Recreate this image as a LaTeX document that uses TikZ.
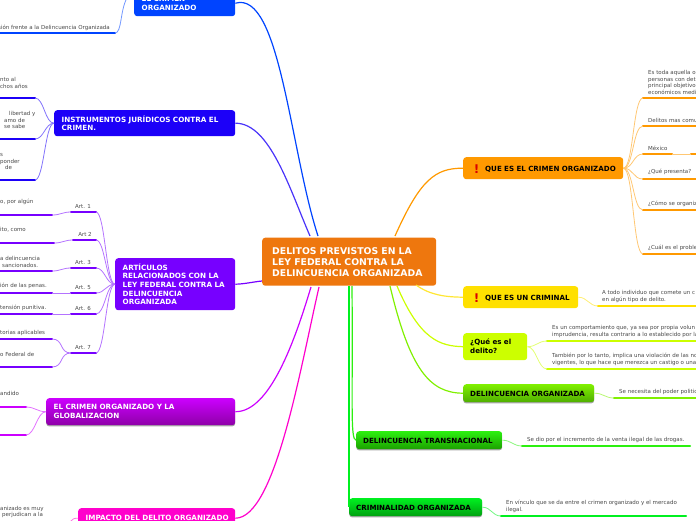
\documentclass[tikz,border=0pt]{standalone}
\usepackage{fontspec}
\setmainfont{DejaVu Sans}
\usetikzlibrary{shadows}
\definecolor{cCtr}{HTML}{EE770E}
\definecolor{cBlueA}{HTML}{0044FF}
\definecolor{cBlueB}{HTML}{1C00F8}
\definecolor{cPur}{HTML}{7700FF}
\definecolor{cMag}{HTML}{CC00FF}
\definecolor{cMagD}{HTML}{8E00A8}
\definecolor{cPink}{HTML}{FF00CC}
\definecolor{cOrg}{HTML}{FF9900}
\definecolor{cYel}{HTML}{FFE000}
\definecolor{cLim}{HTML}{CCFF00}
\definecolor{cLgr}{HTML}{80F000}
\definecolor{cLgrD}{HTML}{4FAE00}
\definecolor{cGrn}{HTML}{2CF010}
\definecolor{cGrnD}{HTML}{1CA000}
\definecolor{cEme}{HTML}{00F020}
\definecolor{cEmeD}{HTML}{00A010}
\definecolor{cTxt}{HTML}{484848}
\tikzset{
  x=1pt,y=-1pt,
  hub/.style={rounded corners=3pt,inner ysep=0pt,inner xsep=7.5pt,anchor=north west,align=left,font=\bfseries},
  whub/.style={hub,text=white},
  khub/.style={hub,text=black},
  softshadow/.style={drop shadow={shadow xshift=0pt,shadow yshift=-1.2pt,opacity=.35,fill=black}},
  leaftext/.style={anchor=south west,inner sep=0pt,align=left,text=cTxt,font=\fontsize{5.5}{6.5}\selectfont},
  under/.style={line width=2.3pt,line cap=round,draw=#1},
  main/.style={line width=1.2pt,draw=#1},
  conn/.style={line width=.8pt,draw=#1!55!white},
}
\newcommand{\uline}[5]{% name, x1, x2, y, colour
  \coordinate (#1a) at (#2,#4);
  \coordinate (#1b) at (#3,#4);
  \draw[under=#5] (#1a) -- (#1b);}
\newcommand{\lcurve}[4][9]{% bend, from, to (going left), colour
  \draw[conn=#4] (#2) .. controls +(-#1,0) and +(#1,0) .. (#3);}
\newcommand{\rcurve}[4][9]{% bend, from, to (going right), colour
  \draw[conn=#4] (#2) .. controls +(#1,0) and +(-#1,0) .. (#3);}
\newcommand{\dropt}[1]{\raisebox{-1.2pt}[\height][\depth]{#1}}
\begin{document}
\begin{tikzpicture}
\useasboundingbox (0,0) rectangle (696,520);
\clip (0,0) rectangle (696,520);

% hubs
\node[whub,inner xsep=10pt,fill=cCtr,minimum width=174,minimum height=48,text width=154,font=\bfseries\fontsize{9.3}{11}\selectfont] (ctr) at (262,237.5) {DELITOS PREVISTOS EN LA\\LEY FEDERAL CONTRA LA\\DELINCUENCIA ORGANIZADA};
\node[whub,fill=cBlueA,minimum width=101,minimum height=26,text width=86,font=\bfseries\fontsize{7.2}{8.4}\selectfont] (hA) at (134,-10) {EL CRIMEN\\ORGANIZADO};
\node[whub,fill=cBlueB,minimum width=181,minimum height=26,text width=166,font=\bfseries\fontsize{7.2}{8.4}\selectfont] (hB) at (54,110) {INSTRUMENTOS JURÍDICOS CONTRA EL\\CRIMEN.};
\node[whub,fill=cPur,minimum width=120,minimum height=52,text width=105,font=\bfseries\fontsize{7.2}{8.6}\selectfont] (hC) at (115,258) {ARTÍCULOS\\RELACIONADOS CON LA\\LEY FEDERAL CONTRA LA\\DELINCUENCIA\\ORGANIZADA};
\node[whub,top color=cMag,bottom color=cMagD,softshadow,minimum width=189,minimum height=27,text width=174,font=\bfseries\fontsize{7.2}{8.8}\selectfont] (hD) at (46,398) {EL CRIMEN ORGANIZADO Y LA\\GLOBALIZACION};
\node[whub,fill=cPink,minimum width=157,minimum height=20,text width=142,font=\bfseries\fontsize{7.2}{8.6}\selectfont] (hE) at (78,508) {\makebox[142pt][l]{IMPACTO DEL DELITO ORGANIZADO}};

\node[khub,fill=cOrg,minimum width=160,minimum height=22,inner xsep=0pt,font=\bfseries\fontsize{7.1}{8}\selectfont,text width=160] (hF) at (463,157) {\hspace{22pt}\dropt{QUE ES EL CRIMEN ORGANIZADO}};
\node[inner sep=0pt,text=red!85!black,font=\bfseries\fontsize{12}{12}\selectfont] (iF) at (476.5,169) {!};
\node[khub,fill=cYel,minimum width=115,minimum height=22,inner xsep=0pt,text width=115,font=\bfseries\fontsize{7.1}{8}\selectfont] (hG) at (463,286) {\hspace{22pt}\dropt{QUE ES UN CRIMINAL}};
\node[inner sep=0pt,text=red!85!black,font=\bfseries\fontsize{12}{12}\selectfont] (iG) at (476.5,298) {!};
\node[khub,fill=cLim,minimum width=64,minimum height=27,inner xsep=7pt,text width=50,font=\bfseries\fontsize{7.1}{9}\selectfont] (hH) at (463,333) {¿Qué es el\\delito?};
\node[khub,top color=cLgr,bottom color=cLgrD,softshadow,minimum width=131,minimum height=18,inner xsep=7pt,text width=117,font=\bfseries\fontsize{7.1}{8}\selectfont] (hI) at (463,384) {\dropt{DELINCUENCIA ORGANIZADA}};
\node[khub,top color=cGrn,bottom color=cGrnD,softshadow,minimum width=146,minimum height=18,inner xsep=7pt,text width=132,font=\bfseries\fontsize{7.1}{8}\selectfont] (hJ) at (356,431) {\dropt{DELINCUENCIA TRANSNACIONAL}};
\node[khub,top color=cEme,bottom color=cEmeD,softshadow,minimum width=133,minimum height=18,inner xsep=7pt,text width=119,font=\bfseries\fontsize{7.1}{8}\selectfont] (hK) at (349,498) {\dropt{CRIMINALIDAD ORGANIZADA}};

% junction points on the central node
\coordinate (jA) at (318,236);
\coordinate (jB) at (310,236);
\coordinate (jC) at (262,281);
\coordinate (jD) at (311,287);
\coordinate (jE) at (319,287);
\coordinate (jF) at (395,236);
\coordinate (jG) at (416,285);
\coordinate (jH) at (397,286);
\coordinate (jI) at (390,286);
\coordinate (jJ) at (352,286);
\coordinate (jK) at (349,286);

% main connectors
\draw[main=cBlueA] (jA) .. controls (290,150) and (280,-10) .. (hA.east);
\draw[main=cBlueB!80!white] (jB) .. controls (290,190) and (270,123) .. (hB.east);
\draw[main=cPur] (jC) .. controls (252,282) and (245,284) .. (hC.east);
\draw[main=cMag] (jD) .. controls (295,340) and (270,412) .. (hD.east);
\draw[main=cPink] (jE) .. controls (300,370) and (275,518) .. (hE.east);
\draw[main=cOrg] (jF) .. controls (420,180) and (435,168) .. (hF.west);
\draw[main=cYel!80!white] (jG) .. controls (430,295) and (445,297) .. (hG.west);
\draw[main=cLim] (jH) .. controls (420,340) and (440,346) .. (hH.west);
\draw[main=cLgr] (jI) .. controls (410,370) and (430,393) .. (hI.west);
\draw[main=cGrn] (jJ) .. controls (353,400) and (350,440) .. (hJ.west);
\draw[main=cEme] (jK) -- (349,400) -- (hK.west);

% EL CRIMEN ORGANIZADO leaf
\uline{a}{-5}{115}{33}{cBlueA}
\coordinate (hAl) at (127,-2);
\draw[conn=cBlueA] (hAl) .. controls (120,10) and (122,33) .. (ab);
\node[leaftext,anchor=south east] (ta) at (110,30.5) {sión frente a la Delincuencia Organizada};

% INSTRUMENTOS leaves
\uline{b}{-5}{35}{98}{cBlueB}
\uline{c}{-5}{35}{139}{cBlueB}
\uline{d}{-5}{35}{180}{cBlueB}
\lcurve{hB.west}{bb}{cBlueB}
\lcurve{hB.west}{cb}{cBlueB}
\lcurve{hB.west}{db}{cBlueB}
\node[leaftext] (tb) at (0,88.5) {nto al\\chos años};
\node[leaftext] (tc) at (4,129) {\hspace{5pt}libertad y\\amo de\\se sabe};
\node[leaftext] (td) at (0,170) {s\\ponder\\\hspace{5pt}de};

% ARTICLES
\uline{e}{71}{96}{212}{cPur}
\uline{f}{73}{96}{240}{cPur}
\uline{g}{71}{96}{268}{cPur}
\uline{h}{71}{96}{293}{cPur}
\uline{i}{71}{96}{314}{cPur}
\uline{j}{71}{96}{353}{cPur}
\foreach \n in {e,f,g,h,i,j} \lcurve{hC.west}{\n b}{cPur};
\node[leaftext,anchor=south] (te) at (83,209) {Art. 1};
\node[leaftext,anchor=south] (tf) at (85,237) {Art 2};
\node[leaftext,anchor=south] (tg) at (83,265) {Art. 3};
\node[leaftext,anchor=south] (th) at (83,289.5) {Art. 5};
\node[leaftext,anchor=south] (ti) at (83,311) {Art. 6};
\node[leaftext,anchor=south] (tj) at (83,350) {Art. 7};
\uline{k}{-5}{52}{215}{cPur}
\uline{l}{-5}{54}{243}{cPur}
\uline{m}{-5}{52}{271}{cPur}
\uline{n}{-5}{52}{293}{cPur}
\uline{o}{-5}{52}{314}{cPur}
\uline{p}{-5}{52}{339}{cPur}
\uline{q}{-5}{52}{367}{cPur}
\lcurve{ea}{kb}{cPur}
\lcurve{fa}{lb}{cPur}
\lcurve{ga}{mb}{cPur}
\draw[conn=cPur] (ha) -- (nb);
\draw[conn=cPur] (ia) -- (ob);
\lcurve[12]{ja}{pb}{cPur}
\lcurve[12]{ja}{qb}{cPur}
\node[leaftext] (tk) at (0,204.5) {o, por algún};
\node[leaftext] (tl) at (0,232.5) {ito, como};
\node[leaftext] (tm) at (0,267.5) {a delincuencia\\\hspace{2pt}sancionados.};
\node[leaftext] (tn) at (0,288.5) {ión de las penas.};
\node[leaftext] (to) at (0,310.5) {tensión punitiva.};
\node[leaftext] (tp) at (0,335.5) {torias aplicables};
\node[leaftext] (tq) at (0,356.5) {o Federal de};

% GLOBALIZACION leaves
\uline{r}{-5}{26}{407}{cMag}
\uline{s}{-5}{26}{435}{cMag}
\lcurve{hD.west}{rb}{cMag}
\lcurve{hD.west}{sb}{cMag}
\node[leaftext] (tr) at (0,396) {andido};

% IMPACTO leaf
\coordinate (uE) at (66,522);
\lcurve{hE.west}{uE}{cPink}
\node[leaftext] (tE) at (0,518) {anizado es muy\\\hspace{2pt}perjudican a la};

% QUE ES EL CRIMEN ORGANIZADO leaves
\uline{t}{643}{700}{98}{cOrg}
\uline{u}{643}{700}{126}{cOrg}
\uline{v}{643}{672}{154}{cOrg}
\uline{w}{691}{700}{154}{cOrg}
\uline{x}{643}{700}{179}{cOrg}
\uline{y}{643}{700}{210}{cOrg}
\uline{z}{643}{700}{254}{cOrg}
\foreach \n in {t,u,v,x,y,z} \rcurve[10]{hF.east}{\n a}{cOrg};
\draw[conn=cOrg] (vb) -- (wa);
\node[leaftext] (tt) at (648,94.5) {Es toda aquella o\\personas con det\\principal objetivo\\económicos medi};
\node[leaftext] (tu) at (648,123) {Delitos mas comu};
\node[leaftext] (tv) at (648,151) {México};
\node[leaftext] (tx) at (648,175) {¿Qué presenta?};
\node[leaftext] (ty) at (648,207) {¿Cómo se organiz};
\node[leaftext] (tz) at (648,251) {¿Cuál es el proble};

% QUE ES UN CRIMINAL leaf
\uline{aa}{598}{700}{306}{cYel}
\rcurve{hG.east}{aaa}{cYel}
\node[leaftext] (taa) at (602,302.5) {A todo individuo que comete un c\\en algún tipo de delito.};

% DELITO leaves
\uline{bb}{547}{700}{341}{cLim}
\uline{cc}{547}{700}{369}{cLim}
\rcurve{hH.east}{bba}{cLim}
\rcurve{hH.east}{cca}{cLim}
\node[leaftext] (tbb) at (552,337.5) {Es un comportamiento que, ya sea por propia volun\\imprudencia, resulta contrario a lo establecido por la};
\node[leaftext] (tcc) at (552,365.5) {También por lo tanto, implica una violación de las no\\vigentes, lo que hace que merezca un castigo o una};

% DELINCUENCIA ORGANIZADA leaf
\uline{dd}{614}{700}{398}{cLgr}
\rcurve{hI.east}{dda}{cLgr}
\node[leaftext] (tdd) at (619,394.5) {Se necesita del poder politic};

% TRANSNACIONAL leaf
\uline{ee}{522}{690}{446}{cGrn}
\rcurve{hJ.east}{eea}{cGrn}
\node[leaftext] (tee) at (527,442.5) {Se dio por el incremento de la venta ilegal de las drogas.};

% CRIMINALIDAD leaf
\uline{ff}{501}{686}{516}{cEme}
\rcurve{hK.east}{ffa}{cEme}
\node[leaftext] (tff) at (506,512.5) {En vínculo que se da entre el crimen organizado y el mercado\\ilegal.};
\end{tikzpicture}
\end{document}
